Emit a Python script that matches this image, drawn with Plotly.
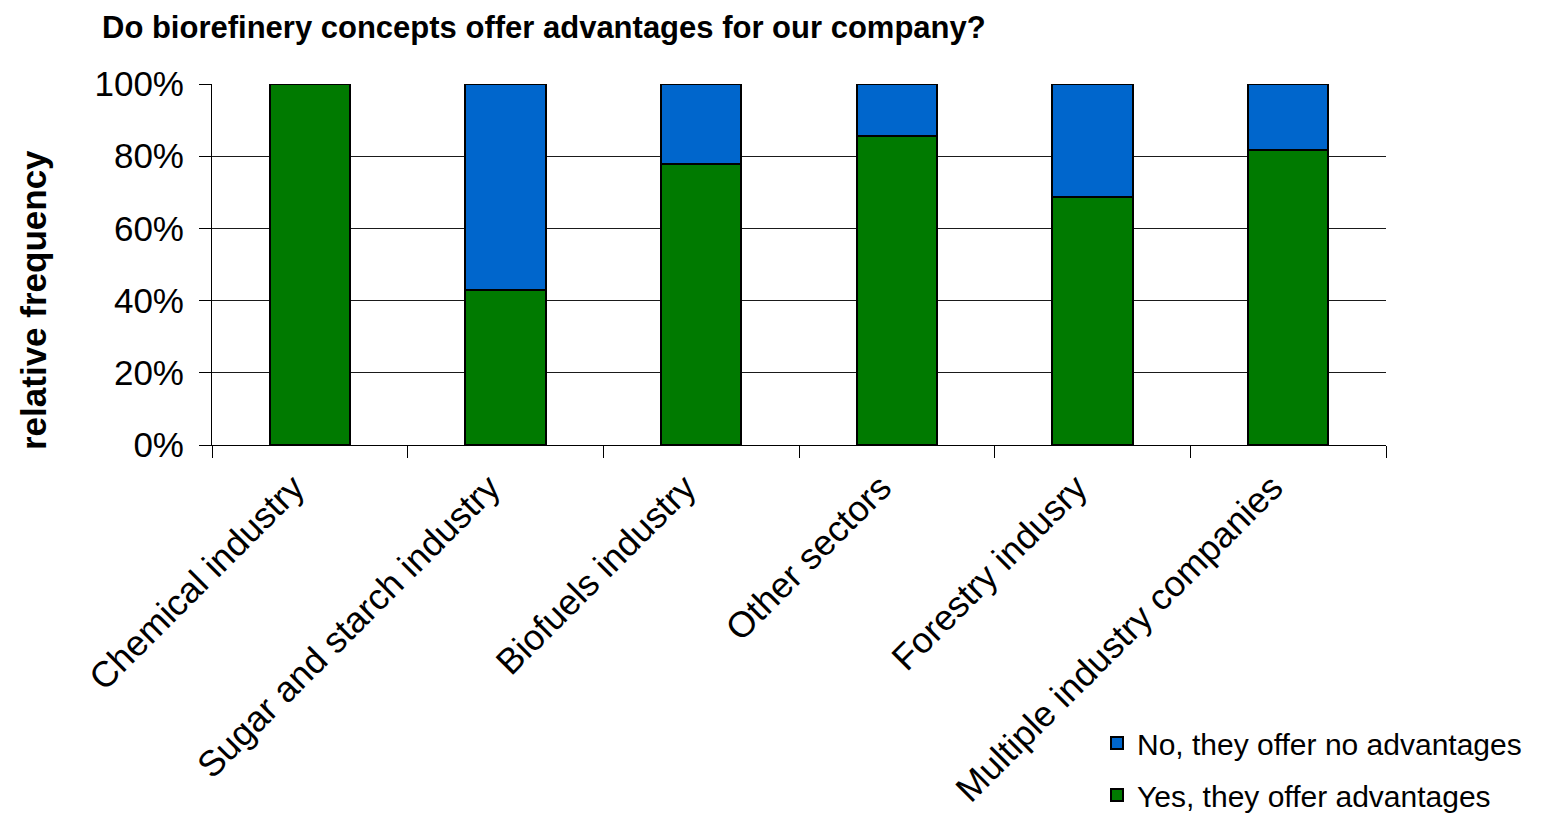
import plotly.graph_objects as go

# Survey responses by sector (share of respondents, %)
categories = [
    "Chemical industry",
    "Sugar and starch industry",
    "Biofuels industry",
    "Other sectors",
    "Forestry indusry",
    "Multiple industry companies",
]
yes_share = [100.0, 42.9, 77.8, 85.7, 68.8, 81.8]
no_share = [0.0, 57.1, 22.2, 14.3, 31.2, 18.2]

tick_vals = [0, 20, 40, 60, 80, 100]
tick_text = ["0%", "20%", "40%", "60%", "80%", "100%"]

FONT = "Liberation Sans, Arial, sans-serif"
GREEN = "#007A00"
BLUE = "#0066CC"

W, H = 1546, 815
ML, MR, MT, MB = 212, 160, 84, 370
plot_w = W - ML - MR
plot_h = H - MT - MB


def px_x(x):
    return (x - ML) / plot_w


def px_y(y):
    return (H - MB - y) / plot_h


fig = go.Figure()
fig.add_trace(go.Bar(
    x=categories, y=yes_share, name="Yes, they offer advantages",
    marker=dict(color=GREEN, line=dict(color="black", width=2)),
    width=0.41, legendgroup="yes", legendrank=2,
))
fig.add_trace(go.Bar(
    x=categories, y=no_share, name="No, they offer no advantages",
    marker=dict(color=BLUE, line=dict(color="black", width=2)),
    width=0.41, legendgroup="no", legendrank=1,
))

fig.update_layout(
    barmode="stack",
    width=W, height=H,
    margin=dict(l=ML, r=MR, t=MT, b=MB, autoexpand=False),
    plot_bgcolor="white", paper_bgcolor="white",
    font=dict(family=FONT, color="black", size=34),
    title=dict(
        text="<b>Do biorefinery concepts offer advantages for our company?</b>",
        x=102 / W, xanchor="left", xref="container",
        y=1 - 27 / H, yanchor="middle", yref="container",
        font=dict(family=FONT, size=31, color="black"),
    ),
    showlegend=True,
    legend=dict(
        x=px_x(1097), y=px_y(717), xref="paper", yref="paper",
        xanchor="left", yanchor="top",
        traceorder="grouped", tracegroupgap=10,
        font=dict(family=FONT, size=30, color="black"),
        bgcolor="rgba(0,0,0,0)",
    ),
    annotations=[dict(
        text="<b>relative frequency</b>", textangle=-90,
        x=px_x(33), y=px_y(300), xref="paper", yref="paper",
        xanchor="center", yanchor="middle", showarrow=False,
        font=dict(family=FONT, size=35, color="black"),
    )],
)

fig.update_xaxes(
    type="category", tickson="boundaries", ticks="outside", ticklen=12,
    tickcolor="black", tickwidth=1, tickangle=-45,
    ticklabelshift=-16, ticklabelstandoff=6,
    showline=True, linecolor="black", linewidth=1,
    showgrid=False, tickfont=dict(family=FONT, size=36),
)
fig.update_yaxes(
    range=[0, 100], tickvals=tick_vals, ticktext=tick_text,
    ticks="outside", ticklen=12, tickcolor="black", tickwidth=1,
    ticklabelstandoff=8,
    showline=True, linecolor="black", linewidth=1,
    showgrid=True, gridcolor="#1a1a1a", gridwidth=1,
    zeroline=True, zerolinecolor="black", zerolinewidth=1,
    tickfont=dict(family=FONT, size=35),
)

fig.write_html("out.html")
